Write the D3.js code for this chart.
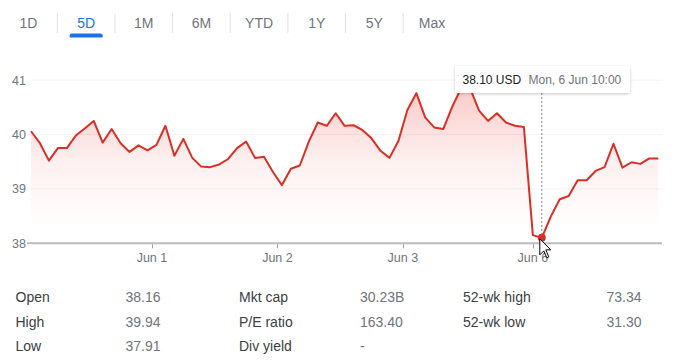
<!DOCTYPE html>
<html>
<head>
<meta charset="utf-8">
<script src="https://cdn.jsdelivr.net/npm/d3@7"></script>
<style>
  html, body { margin: 0; padding: 0; background: #fff; }
  svg { display: block; font-family: Arial, "Liberation Sans", sans-serif; }
</style>
</head>
<body>
<svg id="chart" width="695" height="361"></svg>
<script>
// ---- data ----
const tabs = ["1D", "5D", "1M", "6M", "YTD", "1Y", "5Y", "Max"];
const activeTab = "5D";
const prices = [
  40.06, 39.84, 39.52, 39.75, 39.75, 39.98, 40.11, 40.25, 39.85, 40.10, 39.84, 39.68, 39.80, 39.71,
  39.81, 40.16, 39.61, 39.92, 39.57, 39.41, 39.40, 39.45, 39.55, 39.75, 39.87, 39.57, 39.59, 39.31,
  39.07, 39.37, 39.43, 39.87, 40.22, 40.16, 40.39, 40.16, 40.17, 40.08, 39.93, 39.70, 39.57, 39.88,
  40.45, 40.76, 40.31, 40.13, 40.10, 40.51, 40.85, 40.85, 40.44, 40.25, 40.39, 40.22, 40.16, 40.14,
  38.15, 38.10, 38.49, 38.81, 38.87, 39.16, 39.16, 39.33, 39.40, 39.83, 39.39, 39.49, 39.46, 39.56, 39.56
];
const yTicks = [38, 39, 40, 41];
const dayLabels = ["Jun 1", "Jun 2", "Jun 3", "Jun 6"];
const dayTickIndex = [13.5, 27.5, 41.5, 56];
const hoverIndex = 57;
const hoverLabel = "Mon, 6 Jun 10:00";
const currency = "USD";
const statLabels1 = ["Open", "High", "Low"];
const statValues1 = ["38.16", "39.94", "37.91"];
const statLabels2 = ["Mkt cap", "P/E ratio", "Div yield"];
const statValues2 = ["30.23B", "163.40", "-"];
const statLabels3 = ["52-wk high", "52-wk low"];
const statValues3 = ["73.34", "31.30"];

// ---- drawing ----
const svg = d3.select("#chart");
const red = "#d93025";
const grey = "#70757a";

// tabs
const tabX = d3.scalePoint().domain(tabs).range([28.5, 432]);
tabs.forEach((t, i) => {
  svg.append("text").attr("x", tabX(t)).attr("y", 28)
    .attr("text-anchor", "middle").attr("font-size", 14)
    .attr("fill", t === activeTab ? "#1a73e8" : grey).text(t);
  if (i > 0) {
    const sx = (tabX(tabs[i - 1]) + tabX(t)) / 2;
    svg.append("line").attr("x1", sx).attr("x2", sx).attr("y1", 13).attr("y2", 33)
      .attr("stroke", "#e3e3e3").attr("stroke-width", 1);
  }
});
const ax = tabX(activeTab);
svg.append("path")
  .attr("d", `M${ax - 16.5},37.5 L${ax - 16.5},35.5 Q${ax - 16.5},33.5 ${ax - 14.5},33.5 L${ax + 14.5},33.5 Q${ax + 16.5},33.5 ${ax + 16.5},35.5 L${ax + 16.5},37.5 Z`)
  .attr("fill", "#1a73e8");

// scales
const x = d3.scaleLinear().domain([0, prices.length - 1]).range([31, 658.3]);
const y = d3.scaleLinear().domain([38, 41]).range([243.3, 80.1]);

// gradient
const defs = svg.append("defs");
const grad = defs.append("linearGradient").attr("id", "fillGrad")
  .attr("gradientUnits", "userSpaceOnUse").attr("x1", 0).attr("x2", 0)
  .attr("y1", y(41)).attr("y2", y(38.3));
grad.append("stop").attr("offset", "0%").attr("stop-color", "#e8453c").attr("stop-opacity", 0.3);
grad.append("stop").attr("offset", "55%").attr("stop-color", "#e8453c").attr("stop-opacity", 0.08);
grad.append("stop").attr("offset", "100%").attr("stop-color", "#e8453c").attr("stop-opacity", 0);

const filt = defs.append("filter").attr("id", "shadow").attr("x", "-20%").attr("y", "-40%")
  .attr("width", "140%").attr("height", "200%");
filt.append("feDropShadow").attr("dx", 0).attr("dy", 1).attr("stdDeviation", 1.5)
  .attr("flood-color", "#000").attr("flood-opacity", 0.22);

// gridlines
yTicks.filter(v => v > 38).forEach(v => {
  svg.append("line").attr("x1", 28).attr("x2", 662).attr("y1", y(v)).attr("y2", y(v))
    .attr("stroke", "#f4f4f4").attr("stroke-width", 1);
});

// y labels
yTicks.forEach(v => {
  svg.append("text").attr("x", 26).attr("y", y(v) + 4.5).attr("text-anchor", "end")
    .attr("font-size", 12.5).attr("fill", grey).text(v);
});

// area
const area = d3.area().x((d, i) => x(i)).y0(y(38)).y1(d => y(d));
svg.append("path").datum(prices).attr("d", area).attr("fill", "url(#fillGrad)");

// x axis
svg.append("line").attr("x1", 27).attr("x2", 662).attr("y1", y(38)).attr("y2", y(38))
  .attr("stroke", "#bdbdbd").attr("stroke-width", 2);
dayLabels.forEach((lab, i) => {
  const tx = Math.round(x(dayTickIndex[i])) + 0.5;
  svg.append("line").attr("x1", tx).attr("x2", tx).attr("y1", y(38) + 1).attr("y2", y(38) + 5)
    .attr("stroke", "#9e9e9e").attr("stroke-width", 1);
  svg.append("text").attr("x", x(dayTickIndex[i])).attr("y", 262)
    .attr("text-anchor", "middle").attr("font-size", 12.5).attr("fill", grey).text(lab);
});

// line
const line = d3.line().x((d, i) => x(i)).y(d => y(d));
svg.append("path").datum(prices).attr("d", line).attr("fill", "none")
  .attr("stroke", red).attr("stroke-width", 2).attr("stroke-linejoin", "round");

// hover
const hx = x(hoverIndex), hy = y(prices[hoverIndex]);
svg.append("line").attr("x1", hx).attr("x2", hx).attr("y1", 93).attr("y2", y(38))
  .attr("stroke", "#80868b").attr("stroke-width", 1).attr("stroke-dasharray", "2,2");
svg.append("circle").attr("cx", hx).attr("cy", hy).attr("r", 4).attr("fill", red);

// tooltip
const tip = svg.append("g");
tip.append("rect").attr("x", 455).attr("y", 66).attr("width", 175).attr("height", 27)
  .attr("rx", 2).attr("fill", "#fff").attr("filter", "url(#shadow)");
tip.append("text").attr("x", 462.5).attr("y", 84).attr("font-size", 12).attr("fill", "#202124")
  .text(prices[hoverIndex].toFixed(2) + " " + currency);
tip.append("text").attr("x", 528.5).attr("y", 84).attr("font-size", 12).attr("fill", grey)
  .text(hoverLabel);

// mouse cursor
svg.append("path")
  .attr("d", `M${hx - 2},${hy + 1} l0,16 l4,-4 l3,7 l2,-1 l-3,-7 l5,0 Z`)
  .attr("fill", "#fff").attr("stroke", "#000").attr("stroke-width", 1).attr("stroke-linejoin", "round");

// stats table
const rowY = [302, 326.5, 351];
function col(labels, values, lx, vx) {
  labels.forEach((l, i) => {
    svg.append("text").attr("x", lx).attr("y", rowY[i]).attr("font-size", 14)
      .attr("fill", "#3c4043").text(l);
    svg.append("text").attr("x", vx).attr("y", rowY[i]).attr("font-size", 14)
      .attr("fill", grey).text(values[i]);
  });
}
col(statLabels1, statValues1, 15.5, 125.5);
col(statLabels2, statValues2, 239, 360);
col(statLabels3, statValues3, 463, 606.5);
</script>
</body>
</html>
